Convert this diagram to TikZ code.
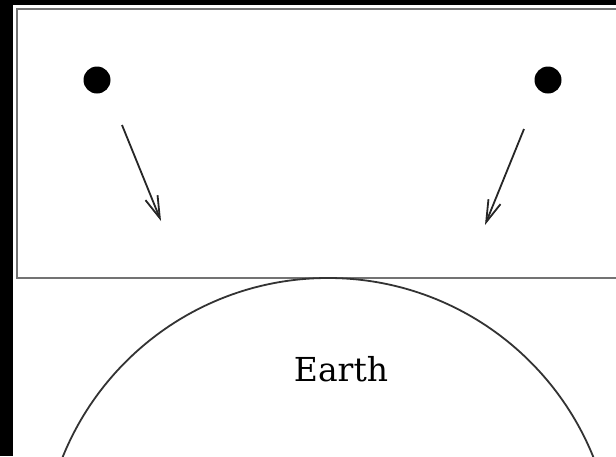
\documentclass[tikz,border=0pt]{standalone}
\usepackage{fontspec}
\setmainfont{DejaVu Serif}
\usetikzlibrary{arrows.meta}
\begin{document}
\begin{tikzpicture}[x=1pt,y=-1pt,
  dot/.style={circle,fill=black,inner sep=0pt,minimum size=27pt},
  vec/.style={draw=black!85,line width=1.8pt,-{Straight Barb[length=22pt,width=13pt,line width=1.8pt]}},
  frame/.style={draw=black!55,line width=2.4pt},
  earth/.style={draw=black!80,line width=1.8pt}]
\useasboundingbox (0,0) rectangle (616,456);
\fill[black] (0,0) rectangle (616,456);
\fill[white] (13,5) rectangle (616,456);
\begin{scope}
\clip (13,5) rectangle (616,456);
\draw[frame] (17,9) rectangle (630,278);
\draw[earth] (328,564) circle[radius=286];
\end{scope}
\node[dot] (d1) at (97,80) {};
\node[dot] (d2) at (548,80) {};
\coordinate (a1s) at (122,125);
\coordinate (a1e) at (161,221);
\coordinate (a2s) at (524,129);
\coordinate (a2e) at (485,225);
\draw[vec] (a1s) -- (a1e);
\draw[vec] (a2s) -- (a2e);
\node[font=\fontsize{33}{38}\selectfont] (earth) at (341,369) {Earth};
\end{tikzpicture}
\end{document}
